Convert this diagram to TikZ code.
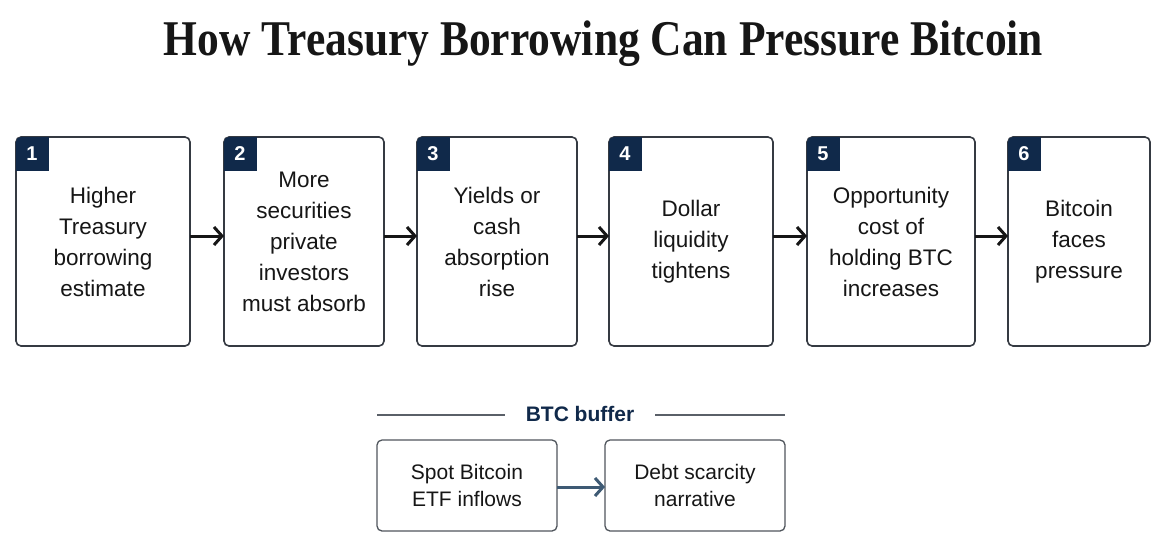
\documentclass[tikz,border=0pt]{standalone}
\usepackage{fontspec}
\setmainfont{Liberation Sans}
\newfontfamily\titlefont{Liberation Serif}
\usetikzlibrary{arrows.meta}
\definecolor{navy}{HTML}{10294A}
\definecolor{edge}{HTML}{353A42}
\definecolor{ink}{HTML}{161616}
\definecolor{steel}{HTML}{3E5A74}
\definecolor{softedge}{HTML}{50565D}
\definecolor{rule}{HTML}{5A6068}
\begin{document}
\begin{tikzpicture}[x=1pt,y=-1pt,
  stepbox/.style={draw=edge, line width=1.6pt, rounded corners=5pt, anchor=north west,
    align=center, font=\fontsize{22.5}{31}\selectfont, text=ink, inner sep=0pt, outer sep=0pt,
    minimum height=209pt},
  badge/.style={text=white, font=\fontsize{20}{20}\selectfont\bfseries, inner sep=0pt},
  bufbox/.style={draw=softedge, line width=1.3pt, rounded corners=5pt, anchor=north west,
    align=center, font=\fontsize{21}{27}\selectfont, text=ink, inner sep=0pt, outer sep=0pt,
    minimum height=91pt, minimum width=179pt},
  flow/.style={draw=ink, line width=3pt, -{Straight Barb[length=8pt,width=18pt]}},
  bufflow/.style={draw=steel, line width=3pt, -{Straight Barb[length=8pt,width=18pt]}},
  rulestyle/.style={draw=rule, line width=1.1pt}
]
\useasboundingbox (0,0) rectangle (1165,549);
\fill[white] (0,0) rectangle (1165,549);

\node[text=ink, inner sep=0pt] (title) at (603.5,44)
  {\scalebox{0.87}[1]{\titlefont\bfseries\fontsize{50}{50}\selectfont How Treasury Borrowing Can Pressure Bitcoin}};

\node[stepbox, minimum width=174pt] (b1) at (16,137) {Higher\\Treasury\\borrowing\\estimate};
\node[stepbox, minimum width=160pt] (b2) at (224,137) {More\\securities\\private\\investors\\must absorb};
\node[stepbox, minimum width=160pt] (b3) at (417,137) {Yields or\\cash\\absorption\\rise};
\node[stepbox, minimum width=164pt] (b4) at (609,137) {Dollar\\liquidity\\tightens};
\node[stepbox, minimum width=168pt] (b5) at (807,137) {Opportunity\\cost of\\holding BTC\\increases};
\node[stepbox, minimum width=142pt] (b6) at (1008,137) {Bitcoin\\faces\\pressure};

\foreach \b/\n in {b1/1,b2/2,b3/3,b4/4,b5/5,b6/6}{
  \begin{scope}
    \clip[rounded corners=5pt] (\b.north west) rectangle (\b.south east);
    \fill[navy] ([xshift=-1pt,yshift=1pt]\b.north west) rectangle ++(34,35);
  \end{scope}
  \node[badge] (n\n) at ([xshift=16pt,yshift=-17pt]\b.north west) {\n};
}

\foreach \a/\c in {b1/b2,b2/b3,b3/b4,b4/b5,b5/b6}{
  \draw[flow] ([yshift=5.5pt]\a.east) -- ([yshift=5.5pt]\c.west);
}

\node[text=navy, font=\fontsize{21}{21}\selectfont\bfseries, inner sep=0pt] (buf) at (580,414) {BTC buffer};
\coordinate (rl1) at (377,415);
\coordinate (rl2) at (505,415);
\coordinate (rr1) at (655,415);
\coordinate (rr2) at (785,415);
\draw[rulestyle] (rl1) -- (rl2);
\draw[rulestyle] (rr1) -- (rr2);

\node[bufbox, minimum width=180pt] (e1) at (377,440) {Spot Bitcoin\\ETF inflows};
\node[bufbox, minimum width=180pt] (e2) at (605,440) {Debt scarcity\\narrative};
\draw[bufflow] ([yshift=-1.5pt]e1.east) -- ([yshift=-1.5pt]e2.west);
\end{tikzpicture}
\end{document}
